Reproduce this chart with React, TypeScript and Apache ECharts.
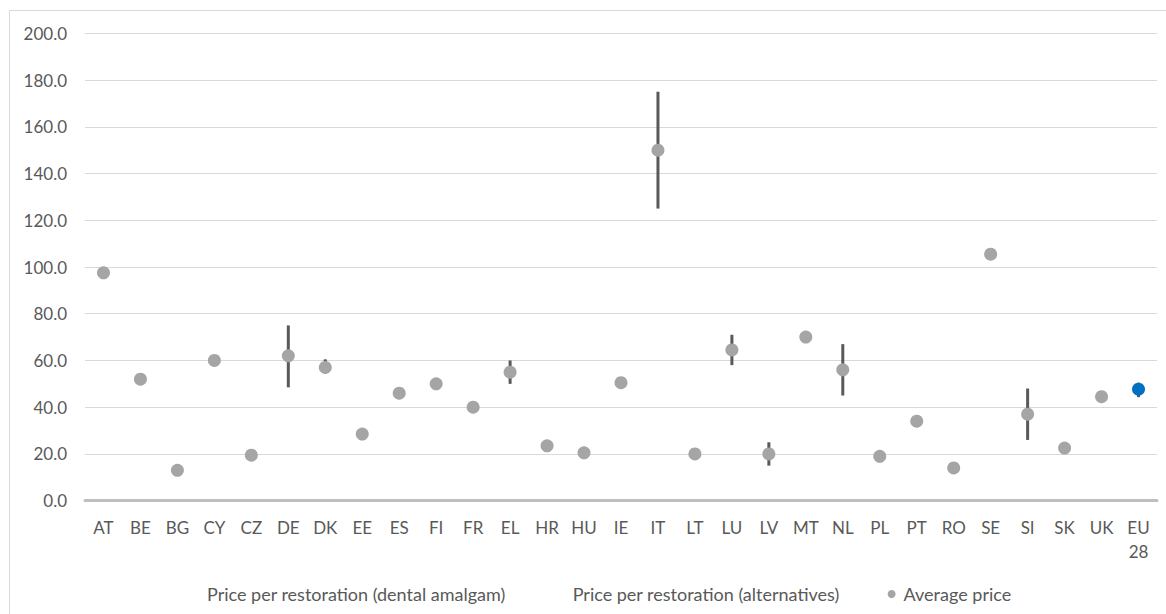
import React, { useEffect, useRef } from "react";
import * as echarts from "echarts";

const categories = ["AT", "BE", "BG", "CY", "CZ", "DE", "DK", "EE", "ES", "FI", "FR", "EL", "HR", "HU", "IE", "IT", "LT", "LU", "LV", "MT", "NL", "PL", "PT", "RO", "SE", "SI", "SK", "UK", "EU\n28"];
const averagePrice = [97.5, 52, 13, 60, 19.5, 62, 57, 28.5, 46, 50, 40, 55, 23.5, 20.5, 50.5, 150, 20, 64.5, 20, 70, 56, 19, 34, 14, 105.5, 37, 22.5, 44.5, 47.7];
const amalgamPrice = [97.5, 52, 13, 60, 19.5, 48.5, 54.5, 28.5, 46, 50, 40, 50, 23.5, 20.5, 50.5, 125, 20, 58, 15, 70, 45, 19, 34, 14, 105.5, 26, 22.5, 44.5, 44.3];
const alternativesPrice = [97.5, 52, 13, 60, 19.5, 75, 60.5, 28.5, 46, 50, 40, 60, 23.5, 20.5, 50.5, 175, 20, 71, 25, 70, 67, 19, 34, 14, 105.5, 48, 22.5, 44.5, 50.5];
const highlightIndex = 28;

const S1 = "Price per restoration (dental amalgam)";
const S2 = "Price per restoration (alternatives)";
const S3 = "Average price";

export default function App() {
  const ref = useRef<HTMLDivElement>(null);
  useEffect(() => {
    if (!ref.current) return;
    const chart = echarts.init(ref.current, undefined, { renderer: "svg" });
    const font = "Lato, 'Noto Sans', sans-serif";
    const textColor = "#595959";
    chart.setOption({
      animation: false,
      textStyle: { fontFamily: font },
      graphic: [
        {
          type: "rect",
          shape: { x: 9.5, y: 10.5, width: 1200, height: 700 },
          style: { fill: "none", stroke: "#D9D9D9", lineWidth: 1 },
          silent: true,
          z: -10,
        },
      ],
      grid: { left: 85, right: 9, top: 33.3, bottom: 113.3, containLabel: false },
      legend: {
        left: 183,
        top: 580,
        itemWidth: 14,
        itemHeight: 8,
        itemGap: 48,
        textStyle: { color: textColor, fontSize: 18, fontFamily: font },
        selectedMode: false,
        data: [
          { name: S1, icon: "rect", itemStyle: { color: "rgba(0,0,0,0)", opacity: 0 } },
          { name: S2, icon: "rect", itemStyle: { color: "rgba(0,0,0,0)", opacity: 0 } },
          { name: S3, icon: "circle", itemStyle: { color: "#A5A5A5" } },
        ],
      },
      xAxis: {
        type: "category",
        data: categories,
        boundaryGap: true,
        axisLine: { show: true, lineStyle: { color: "#BFBFBF", width: 3 } },
        axisTick: { show: false },
        axisLabel: { color: textColor, fontSize: 17, fontFamily: font, margin: 15, lineHeight: 24, interval: 0 },
        splitLine: { show: false },
      },
      yAxis: {
        type: "value",
        min: 0,
        max: 200,
        interval: 20,
        axisLine: { show: false },
        axisTick: { show: false },
        axisLabel: { color: textColor, fontSize: 17, fontFamily: font, margin: 18, formatter: (v: number) => v.toFixed(1) },
        splitLine: { lineStyle: { color: "#D9D9D9", width: 1 } },
      },
      series: [
        {
          name: S1,
          type: "line",
          data: amalgamPrice,
          symbol: "none",
          itemStyle: { color: "rgba(0,0,0,0)" },
          lineStyle: { color: "rgba(0,0,0,0)", width: 0 },
          silent: true,
        },
        {
          name: S2,
          type: "line",
          data: alternativesPrice,
          symbol: "none",
          itemStyle: { color: "rgba(0,0,0,0)" },
          lineStyle: { color: "rgba(0,0,0,0)", width: 0 },
          silent: true,
        },
        {
          name: "hilo",
          type: "custom",
          data: categories.map((c, i) => [i, amalgamPrice[i], alternativesPrice[i]]),
          renderItem: (params: any, api: any) => {
            const i = api.value(0);
            const lo = api.coord([i, api.value(1)]);
            const hi = api.coord([i, api.value(2)]);
            return {
              type: "line",
              shape: { x1: lo[0], y1: lo[1], x2: hi[0], y2: hi[1] },
              style: { stroke: "#595959", lineWidth: 3 },
            };
          },
          z: 2,
          silent: true,
        },
        {
          name: S3,
          type: "scatter",
          symbol: "circle",
          symbolSize: 13,
          itemStyle: { color: "#A5A5A5", opacity: 1 },
          data: averagePrice.map((v, i) =>
            i === highlightIndex ? { value: v, itemStyle: { color: "#0070C0" } } : v
          ),
          z: 3,
          silent: true,
        },
      ],
    });
    return () => chart.dispose();
  }, []);
  return (
    <div
      ref={ref}
      style={{ position: "fixed", left: 0, top: 0, width: 1166, height: 614, background: "#fff" }}
    />
  );
}
